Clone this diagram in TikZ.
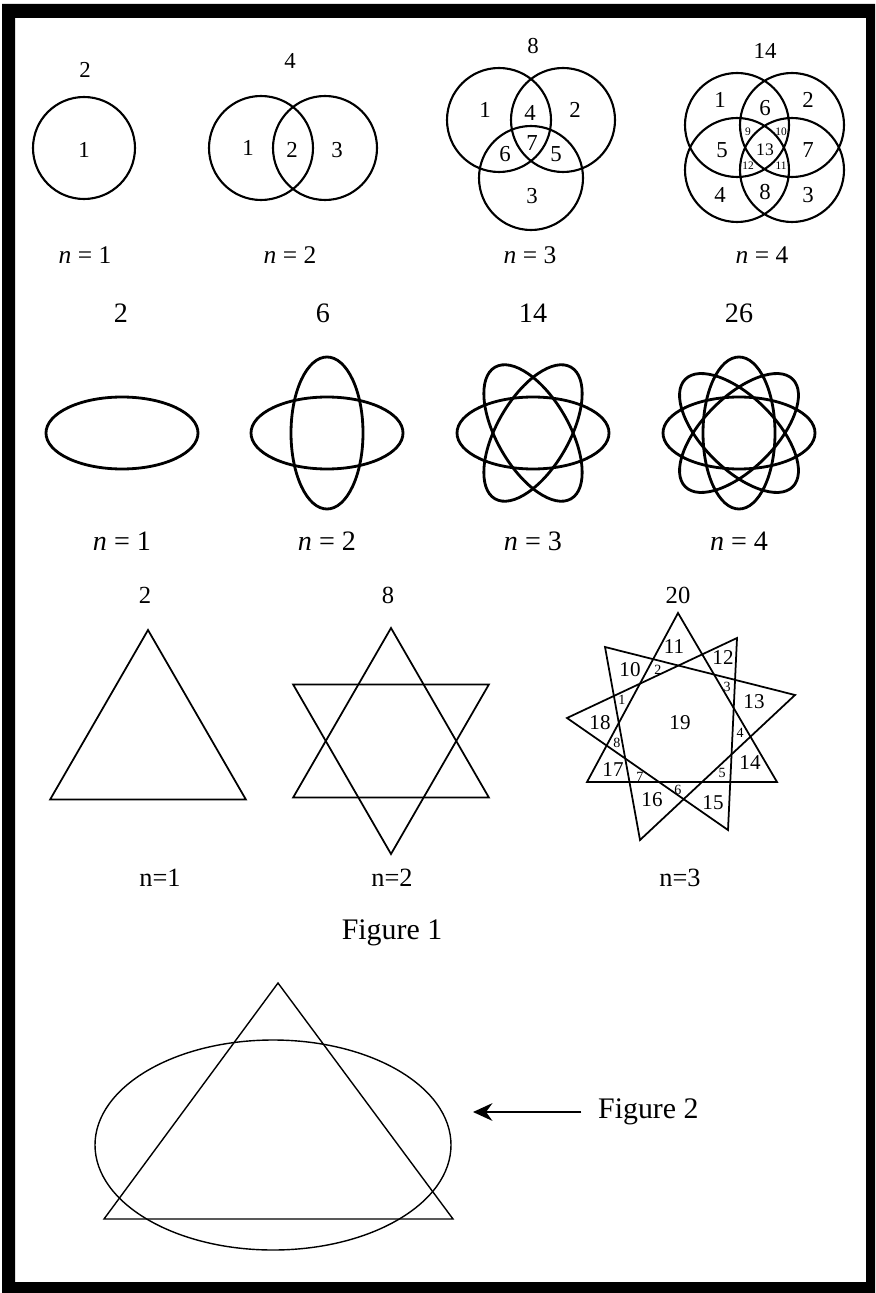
\documentclass[tikz,border=0pt]{standalone}
\usepackage{fontspec}
\setmainfont{Liberation Serif}
\usetikzlibrary{arrows.meta}

\begin{document}
\begin{tikzpicture}[x=0.02cm, y=-0.02cm,
    venn/.style={line width=1.2pt},
    petal/.style={line width=1.6pt},
    tri/.style={line width=1pt},
    thinline/.style={line width=0.8pt},
    num/.style={font=\fontsize{13}{13}\selectfont, inner sep=1pt},
    nlab/.style={font=\fontsize{14.5}{14.5}\selectfont, inner sep=1pt},
    tiny/.style={font=\fontsize{6.5}{6.5}\selectfont, inner sep=0pt},
    bignum/.style={font=\fontsize{16}{16}\selectfont, inner sep=1pt},
    starnum/.style={font=\fontsize{12}{12}\selectfont, inner sep=0pt},
    starsmall/.style={font=\fontsize{8}{8}\selectfont, inner sep=0pt},
    midnum/.style={font=\fontsize{14}{14}\selectfont, inner sep=1pt},
    figlab/.style={font=\fontsize{17}{17}\selectfont}]

    % Frame
    \useasboundingbox (0,0) rectangle (875,1293);
    \fill[black, even odd rule] (2,4) rectangle (875,1293) (15,18) rectangle (866,1282);

    % Circles, n = 1
    \draw[venn] (84,148) circle (51);
    \node[num] (c1top) at (85,70) {2};
    \node[num] (c1r1) at (84,150) {1};
    \node[nlab] (c1n) at (85,255) {\textit{n} = 1};

    % Circles, n = 2
    \draw[venn] (261,148) circle (52);
    \draw[venn] (325,148) circle (52);
    \node[num] (c2top) at (290,61) {4};
    \foreach \t/\x/\y [count=\i] in {1/248/148, 2/292/150, 3/337/150}
        \node[num] (c2r\i) at (\x,\y) {\t};
    \node[nlab] (c2n) at (290,255) {\textit{n} = 2};

    % Circles, n = 3
    \draw[venn] (499,120) circle (52);
    \draw[venn] (563,120) circle (52);
    \draw[venn] (531,178) circle (52);
    \node[num] (c3top) at (533,46) {8};
    \foreach \t/\x/\y [count=\i] in {1/485/110, 2/575/110, 3/532/196, 4/530/113,
                                     5/556/154, 6/505/154, 7/532/143}
        \node[num] (c3r\i) at (\x,\y) {\t};
    \node[nlab] (c3n) at (530,255) {\textit{n} = 3};

    % Circles, n = 4
    \draw[venn] (737,125) circle (52);
    \draw[venn] (792,125) circle (52);
    \draw[venn] (737,170) circle (52);
    \draw[venn] (792,170) circle (52);
    \node[num] (c4top) at (765,51) {14};
    \foreach \t/\x/\y [count=\i] in {1/720/100, 2/808/100, 3/808/195, 4/720/195,
                                     5/722/150, 6/765/108, 7/808/150, 8/765/192}
        \node[num] (c4r\i) at (\x,\y) {\t};
    \foreach \t/\x/\y [count=\i] in {9/748/132, 10/781/132, 11/781/166, 12/748/166}
        \node[tiny] (c4s\i) at (\x,\y) {\t};
    \node[font=\fontsize{10}{10}\selectfont, inner sep=0pt] (c4r13) at (765,150) {13};
    \node[nlab] (c4n) at (762,255) {\textit{n} = 4};

    % Ellipses
    \draw[petal] (122,433) ellipse [x radius=76, y radius=36];
    \foreach \a in {0,90}
        \draw[petal, rotate around={\a:(327,433)}] (327,433) ellipse [x radius=76, y radius=36];
    \foreach \a in {0,60,120}
        \draw[petal, rotate around={\a:(533,433)}] (533,433) ellipse [x radius=76, y radius=36];
    \foreach \a in {0,45,90,135}
        \draw[petal, rotate around={\a:(739,433)}] (739,433) ellipse [x radius=76, y radius=36];
    \foreach \t/\x [count=\i] in {2/121, 6/323, 14/533, 26/739}
        \node[bignum] (etop\i) at (\x,313) {\t};
    \foreach \x [count=\i] in {122, 327, 533, 739}
        \node[bignum] (en\i) at (\x,541) {\textit{n} = \i};

    % Triangles
    \draw[tri, shift={(148,743)}] (-90:113) -- (30:113) -- (150:113) -- cycle;
    \draw[tri, shift={(391,741)}] (-90:113) -- (30:113) -- (150:113) -- cycle;
    \draw[tri, shift={(391,741)}] (90:113) -- (210:113) -- (330:113) -- cycle;
    % nine-point star, drawn by hand
    \draw[tri] (678,613) -- (777,782) -- (587,782) -- cycle;
    \draw[tri] (737,638) -- (728,830) -- (567,718) -- cycle;
    \draw[tri] (795,695) -- (640,840) -- (605,647) -- cycle;
    \node[midnum] (t1top) at (145,595) {2};
    \node[midnum] (t2top) at (388,595) {8};
    \node[midnum] (t3top) at (678,595) {20};
    \foreach \t/\x/\y [count=\i] in {10/630/670, 11/674/647, 12/723/658, 13/754/702,
                                     14/750/763, 15/713/803, 16/652/800, 17/613/770,
                                     18/600/723, 19/680/723}
        \node[starnum] (t3r\i) at (\x,\y) {\t};
    \foreach \t/\x/\y [count=\i] in {1/622/700, 2/658/670, 3/727/687, 4/740/733,
                                     5/722/773, 6/678/790, 7/640/777, 8/617/743}
        \node[starsmall] (t3s\i) at (\x,\y) {\t};
    \node[midnum, font=\fontsize{15}{15}\selectfont] (t1n) at (160,878) {n=1};
    \node[midnum, font=\fontsize{15}{15}\selectfont] (t2n) at (392,878) {n=2};
    \node[midnum, font=\fontsize{15}{15}\selectfont] (t3n) at (680,878) {n=3};
    \node[figlab] (fig1) at (392,933) {Figure 1};

    % Figure 2
    \draw[thinline] (278,983) -- (453,1219) -- (104,1219) -- cycle;
    \draw[thinline] (273,1145) ellipse [x radius=178, y radius=105];
    \node[figlab, anchor=west] (fig2) at (592,1112) {Figure 2};
    \coordinate (fig2tip) at (473,1112);
    \draw[-{Stealth[length=11pt, width=10pt]}, line width=1.5pt, shorten <=6pt] (fig2.west) -- (fig2tip);
\end{tikzpicture}
\end{document}
